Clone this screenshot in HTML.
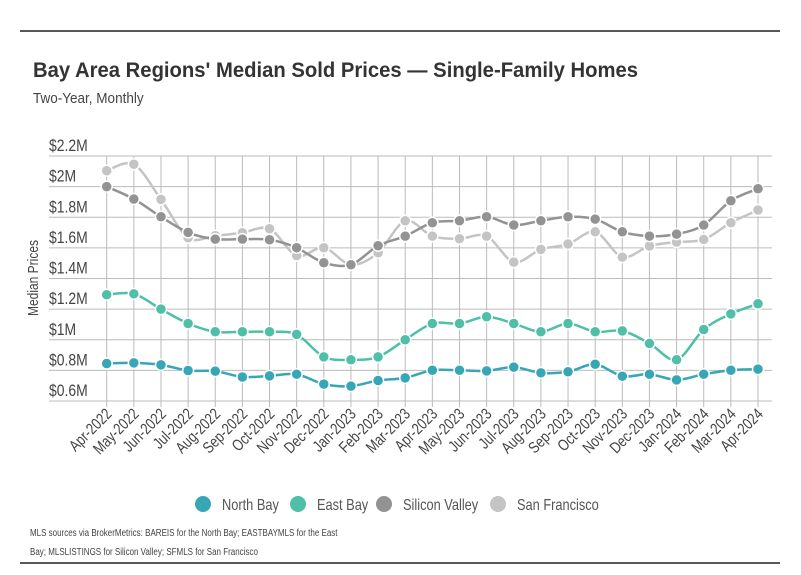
<!DOCTYPE html>
<html><head><meta charset="utf-8"><style>
body{margin:0;background:#fff;width:801px;height:575px;overflow:hidden;font-family:"Liberation Sans Narrow","Liberation Sans",sans-serif;}
svg{display:block}
</style></head><body>
<svg width="801" height="575" id="chart">
<line x1="20" y1="31" x2="780" y2="31" stroke="#222" stroke-width="1.5"/>
<text x="33" y="77" font-size="21" font-weight="bold" fill="#333" textLength="605" lengthAdjust="spacingAndGlyphs">Bay Area Regions' Median Sold Prices — Single-Family Homes</text>
<text x="33" y="103" font-size="15" fill="#444" data-sq="0.9">Two-Year, Monthly</text>
<text transform="translate(38,278) rotate(-90)" text-anchor="middle" font-size="15" fill="#444">Median Prices</text>
<g id="grid"></g><g id="series"></g><g id="xlabels"></g>
<g font-size="16" fill="#555">
<circle cx="203" cy="504" r="8" fill="#37a6b5"/>
<text x="222" y="510">North Bay</text>
<circle cx="298" cy="504" r="8" fill="#4fbfa8"/>
<text x="317" y="510">East Bay</text>
<circle cx="384" cy="504" r="8" fill="#939393"/>
<text x="403" y="510">Silicon Valley</text>
<circle cx="498" cy="504" r="8" fill="#c4c4c4"/>
<text x="517" y="510">San Francisco</text>
</g>
<text x="30" y="536" font-size="10" fill="#444" data-sq="0.8">MLS sources via BrokerMetrics: BAREIS for the North Bay; EASTBAYMLS for the East</text>
<text x="30" y="555" font-size="10" fill="#444" data-sq="0.8">Bay; MLSLISTINGS for Silicon Valley; SFMLS for San Francisco</text>
<line x1="20" y1="563" x2="780" y2="563" stroke="#222" stroke-width="1.5"/>
</svg>
<script>
const categories=["Apr-2022","May-2022","Jun-2022","Jul-2022","Aug-2022","Sep-2022","Oct-2022","Nov-2022","Dec-2022","Jan-2023","Feb-2023","Mar-2023","Apr-2023","May-2023","Jun-2023","Jul-2023","Aug-2023","Sep-2023","Oct-2023","Nov-2023","Dec-2023","Jan-2024","Feb-2024","Mar-2024","Apr-2024"];
const northBay=[0.845,0.849,0.836,0.799,0.795,0.757,0.764,0.775,0.71,0.697,0.734,0.751,0.801,0.801,0.797,0.821,0.784,0.791,0.84,0.762,0.775,0.738,0.775,0.801,0.808];
const eastBay=[1.294,1.30,1.2,1.106,1.052,1.052,1.052,1.035,0.888,0.869,0.888,1.0,1.106,1.106,1.15,1.106,1.052,1.106,1.052,1.058,0.976,0.869,1.067,1.169,1.235];
const siliconValley=[2.0,1.919,1.803,1.701,1.657,1.657,1.653,1.601,1.503,1.49,1.614,1.677,1.764,1.777,1.803,1.749,1.777,1.803,1.788,1.705,1.677,1.69,1.749,1.908,1.986];
const sanFrancisco=[2.104,2.146,1.917,1.666,1.679,1.699,1.725,1.549,1.601,1.49,1.568,1.777,1.677,1.66,1.677,1.507,1.59,1.625,1.705,1.54,1.612,1.638,1.655,1.764,1.847];
const yTicks=[0.6,0.8,1.0,1.2,1.4,1.6,1.8,2.0,2.2];
const yTickLabels=["$0.6M","$0.8M","$1M","$1.2M","$1.4M","$1.6M","$1.8M","$2M","$2.2M"];
const NS="http://www.w3.org/2000/svg";
const x0=106.7,x1=758,yTop=156,yBot=401,vMin=0.6,vMax=2.2;
function xs(i){return x0+i*(x1-x0)/(categories.length-1);}
function ys(v){return yBot-(v-vMin)/(vMax-vMin)*(yBot-yTop);}
function mk(tag,attrs,parent){const e=document.createElementNS(NS,tag);for(const k in attrs)e.setAttribute(k,attrs[k]);parent.appendChild(e);return e;}
const grid=document.getElementById('grid');
yTicks.forEach((t,i)=>{
 const l=mk('line',{x1:49,x2:772,y1:ys(t),y2:ys(t),stroke:'#bbb','stroke-width':1},grid);
 
 
 const tx=mk('text',{x:49,y:ys(t)-5,'font-size':17,fill:'#444','data-sq':'0.82'},grid);
 tx.textContent=yTickLabels[i];
 
 
});
const xl=document.getElementById('xlabels');
categories.forEach((c,i)=>{
 const l=mk('line',{x1:xs(i),x2:xs(i),y1:yTop,y2:yBot+6,stroke:'#bbb','stroke-width':1},grid);
 
 
 const t=mk('text',{transform:`translate(${xs(i)+6},${yBot+14}) rotate(-45)`,'text-anchor':'end','font-size':16,fill:'#444'},xl);
 t.textContent=c;
 
 
});
function smooth(pts){let d=`M${pts[0][0]},${pts[0][1]}`;for(let i=0;i<pts.length-1;i++){const p0=pts[i-1]||pts[i],p1=pts[i],p2=pts[i+1],p3=pts[i+2]||p2;const k=0.16;d+=` C${p1[0]+(p2[0]-p0[0])*k},${p1[1]+(p2[1]-p0[1])*k} ${p2[0]-(p3[0]-p1[0])*k},${p2[1]-(p3[1]-p1[1])*k} ${p2[0]},${p2[1]}`;}return d;}
const ser=document.getElementById('series');
[[sanFrancisco,'#c4c4c4','san-francisco'],[siliconValley,'#939393','silicon-valley'],[eastBay,'#4fbfa8','east-bay'],[northBay,'#37a6b5','north-bay']].forEach(([vals,col,name])=>{
 const g=mk('g',{},ser);
 
 
 const pts=vals.map((v,i)=>[xs(i),ys(v)]);
 const p=mk('path',{d:smooth(pts),fill:'none',stroke:col,'stroke-width':2.5},g);
 
 
 pts.forEach(pt=>{
  const c=mk('circle',{cx:pt[0],cy:pt[1],r:5.5,fill:col,stroke:'#fff','stroke-width':1.5},g);
  
  
 });
});
document.querySelectorAll('text').forEach(t=>{
 if(t.hasAttribute('textLength'))return;
 const f=parseFloat(t.getAttribute('data-sq')||'0.8');
 const w=t.getComputedTextLength();
 t.setAttribute('textLength',(w*f).toFixed(1));
 t.setAttribute('lengthAdjust','spacingAndGlyphs');
});
</script>
</body></html>
